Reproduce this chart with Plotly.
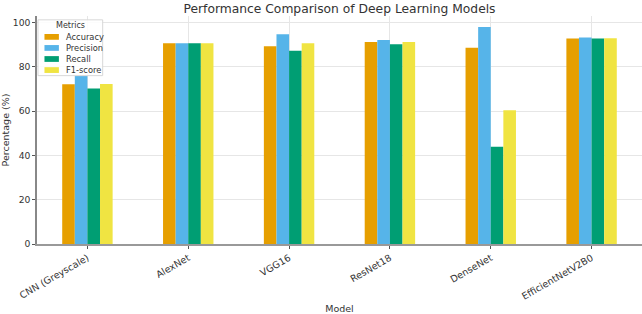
import plotly.graph_objects as go

models = ["CNN (Greyscale)", "AlexNet", "VGG16", "ResNet18", "DenseNet", "EfficientNetV2B0"]
accuracy = [72.2, 90.7, 89.3, 91.3, 88.7, 92.8]
precision = [76.0, 90.7, 94.8, 92.2, 98.0, 93.3]
recall = [70.2, 90.7, 87.3, 90.2, 43.9, 92.8]
f1_score = [72.3, 90.7, 90.7, 91.3, 60.4, 93.0]

metric_names = ["Accuracy", "Precision", "Recall", "F1-score"]
metric_values = [accuracy, precision, recall, f1_score]
metric_colors = ["#E69F00", "#56B4E9", "#009E73", "#F0E442"]

W, H = 642, 314
ML, MR, MT, MB = 34, 0, 16, 61
PW, PH = W - ML - MR, H - MT - MB

fig = go.Figure()
for name, vals, color in zip(metric_names, metric_values, metric_colors):
    fig.add_trace(go.Bar(x=models, y=vals, name=name, marker=dict(color=color, line=dict(width=0))))

def px(x):
    return (x - ML) / PW

def py(y):
    return (H - MB - y) / PH

# compact legend box (matplotlib-style)
shapes = [dict(type="rect", xref="paper", yref="paper", x0=px(35), x1=px(100), y0=py(78), y1=py(20),
               fillcolor="rgba(255,255,255,0.85)", line=dict(color="#d8d8d8", width=1), layer="above")]
annotations = [dict(text="Metrics", xref="paper", yref="paper", x=px(68), y=py(26), xanchor="center",
                    yanchor="middle", showarrow=False, font=dict(size=8, color="#333333"))]
row_y = [37.7, 49.2, 60.7, 72.2]
for name, color, ry in zip(metric_names, metric_colors, row_y):
    shapes.append(dict(type="rect", xref="paper", yref="paper", x0=px(41.5), x1=px(56), y0=py(ry + 3),
                       y1=py(ry - 3), fillcolor=color, line=dict(width=0), layer="above"))
    annotations.append(dict(text=name, xref="paper", yref="paper", x=px(61.5), y=py(ry), xanchor="left",
                            yanchor="middle", showarrow=False, font=dict(size=8.3, color="#333333")))

font = "DejaVu Sans, Arial, sans-serif"
fig.update_layout(
    width=W, height=H,
    margin=dict(l=ML, r=MR, t=MT, b=MB),
    paper_bgcolor="white", plot_bgcolor="white",
    font=dict(family=font, size=9, color="#333333"),
    barmode="group", bargap=0.5, bargroupgap=0,
    title=dict(text="Performance Comparison of Deep Learning Models", x=0.5, xref="paper", xanchor="center",
               y=0.972, yanchor="middle", font=dict(size=12.3, color="#333333")),
    showlegend=False,
    shapes=shapes,
    annotations=annotations,
)
fig.update_xaxes(
    type="category", range=[-0.5, 5.5],
    showgrid=True, gridcolor="#e6e6e6", gridwidth=1,
    showline=True, linecolor="#999999", linewidth=2,
    ticks="outside", ticklen=3, tickcolor="#555555",
    tickangle=-30, tickfont=dict(size=9.5, color="#333333"),
    title=dict(text="Model", font=dict(size=9.5), standoff=6),
)
fig.update_yaxes(
    range=[0, 103], tickvals=[0, 20, 40, 60, 80, 100],
    showgrid=True, gridcolor="#e6e6e6", gridwidth=1,
    showline=True, linecolor="#888888", linewidth=1.5,
    ticks="outside", ticklen=3, tickcolor="#555555",
    tickfont=dict(size=9.2, color="#333333"), zeroline=False,
    title=dict(text="Percentage (%)", font=dict(size=9.5), standoff=6),
)

fig.write_html("out.html")
